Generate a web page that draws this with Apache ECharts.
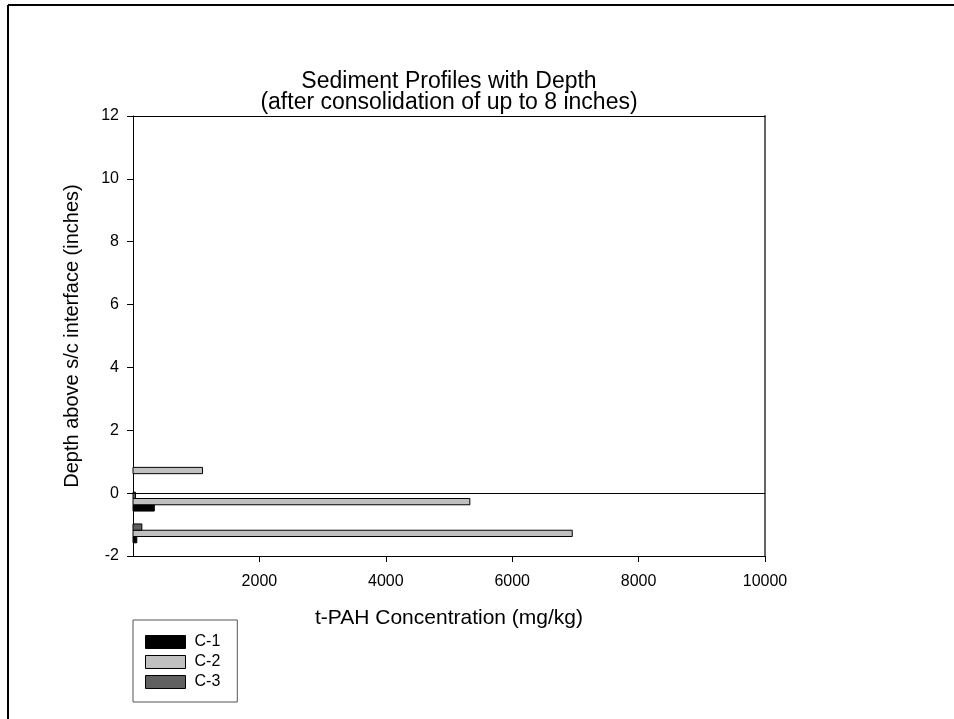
<!DOCTYPE html>
<html>
<head>
<meta charset="utf-8">
<script src="https://cdn.jsdelivr.net/npm/echarts@6/dist/echarts.min.js"></script>
<style>
html,body{margin:0;padding:0;background:#fff;}
#chart{width:954px;height:719px;}
</style>
</head>
<body>
<div id="chart"></div>
<script>
// ---- data ----
var depths = [0.72, -0.27, -1.28];            // depth above s/c interface (inches)
var seriesNames = ['C-1', 'C-2', 'C-3'];
var c1Values = [null, 337, 60];               // t-PAH (mg/kg)
var c2Values = [1100, 5330, 6950];
var c3Values = [null, 40, 140];
var xTicks = [2000, 4000, 6000, 8000, 10000];
var yTicks = [-2, 0, 2, 4, 6, 8, 10, 12];

var allValues = [c1Values, c2Values, c3Values];
var fills = ['#000000', '#c0c0c0', '#606060'];
var offsets = [1, 0, -1];  // C-1 below, C-2 centre, C-3 above
var BAR_H = 0.2;           // bar thickness in depth units

var FONT = 'Liberation Sans, Arial, sans-serif';

function buildData(vals) {
  var out = [];
  for (var i = 0; i < depths.length; i++) {
    if (vals[i] != null) out.push([vals[i], depths[i]]);
  }
  return out;
}

function makeRender(idx) {
  return function (params, api) {
    var v = api.value(0), d = api.value(1);
    var p0 = api.coord([0, d]);
    var p1 = api.coord([v, d]);
    var h = api.size([0, BAR_H])[1];
    var cy = p0[1] + offsets[idx] * h;
    return {
      type: 'rect',
      shape: { x: p0[0], y: cy - h / 2, width: p1[0] - p0[0], height: h },
      style: { fill: fills[idx], stroke: '#000', lineWidth: 1 }
    };
  };
}

var series = seriesNames.map(function (name, i) {
  var s = {
    name: name,
    type: 'custom',
    renderItem: makeRender(i),
    data: buildData(allValues[i]),
    encode: { x: 0, y: 1 },
    itemStyle: { color: fills[i], borderColor: '#000', borderWidth: 1 },
    clip: false
  };
  if (i === 0) {
    s.markLine = {
      silent: true, symbol: 'none', label: { show: false },
      lineStyle: { color: '#000', width: 1, type: 'solid' },
      data: [{ yAxis: 0 }]
    };
  }
  return s;
});

function plain(v) { return String(v); }

var chart = echarts.init(document.getElementById('chart'));
chart.setOption({
  animation: false,
  backgroundColor: '#fff',
  title: {
    text: 'Sediment Profiles with Depth\n(after consolidation of up to 8 inches)',
    left: 449, top: 71, textAlign: 'center', padding: 0,
    textStyle: { fontFamily: FONT, fontSize: 23, fontWeight: 'normal', color: '#000', lineHeight: 21 }
  },
  grid: { left: 133, top: 116, width: 632, height: 440, containLabel: false },
  xAxis: [{
    type: 'value', min: 0, max: 10000, interval: 2000, position: 'bottom',
    name: 't-PAH Concentration (mg/kg)', nameLocation: 'middle', nameGap: 52,
    nameTextStyle: { fontFamily: FONT, fontSize: 21, color: '#000' },
    axisLine: { show: true, onZero: false, lineStyle: { color: '#000', width: 1 } },
    axisTick: { show: true, length: 6, inside: false, customValues: xTicks, lineStyle: { color: '#000' } },
    axisLabel: { customValues: xTicks, formatter: plain, fontFamily: FONT, fontSize: 16, color: '#000', margin: 18 },
    splitLine: { show: false }
  }, {
    type: 'value', min: 0, max: 10000, position: 'top',
    axisLine: { show: true, onZero: false, lineStyle: { color: '#000', width: 1 } },
    axisTick: { show: false }, axisLabel: { show: false }, splitLine: { show: false }
  }],
  yAxis: [{
    type: 'value', min: -2, max: 12, interval: 2, position: 'left',
    name: 'Depth above s/c interface (inches)', nameLocation: 'middle', nameGap: 51, nameRotate: 90,
    nameTextStyle: { fontFamily: FONT, fontSize: 20, color: '#000' },
    axisLine: { show: true, onZero: false, lineStyle: { color: '#000', width: 1 } },
    axisTick: { show: true, length: 6, inside: false, lineStyle: { color: '#000' } },
    axisLabel: { formatter: plain, fontFamily: FONT, fontSize: 16, color: '#000', margin: 14 },
    splitLine: { show: false }
  }, {
    type: 'value', min: -2, max: 12, interval: 2, position: 'right',
    axisLine: { show: true, onZero: false, lineStyle: { color: '#666', width: 2 } },
    axisTick: { show: false }, axisLabel: { show: false }, splitLine: { show: false }
  }],
  legend: {
    orient: 'vertical', left: 133, top: 620,
    padding: [14, 17, 12, 12],
    borderColor: '#555', borderWidth: 1,
    itemWidth: 40, itemHeight: 13, itemGap: 4,
    icon: 'rect',
    textStyle: { fontFamily: FONT, fontSize: 16, color: '#000', padding: [0, 0, 0, 4] },
    data: seriesNames.map(function (n, i) {
      return { name: n, itemStyle: { color: fills[i], borderColor: '#000', borderWidth: 1 } };
    })
  },
  graphic: [
    { type: 'line', shape: { x1: 8, y1: 5, x2: 954, y2: 5 }, style: { stroke: '#000', lineWidth: 2 } },
    { type: 'line', shape: { x1: 8, y1: 5, x2: 8, y2: 719 }, style: { stroke: '#000', lineWidth: 2 } }
  ],
  series: series
});
</script>
</body>
</html>
